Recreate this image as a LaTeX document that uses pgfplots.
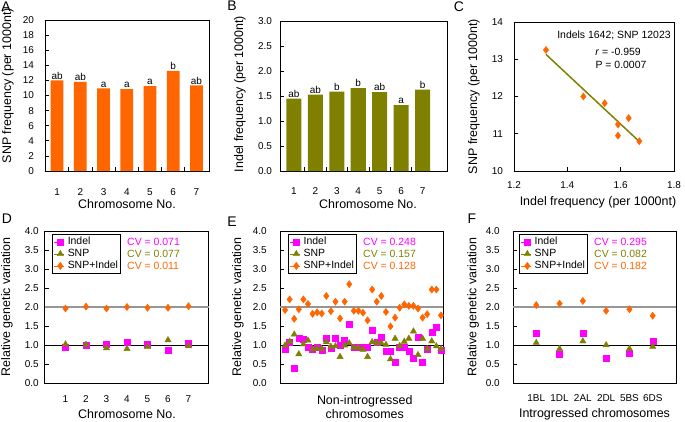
\documentclass[border=0pt]{standalone}
\usepackage{pgfplots}
\pgfplotsset{compat=1.18}
\usepackage{fontspec}
\setmainfont{Liberation Sans}

\definecolor{snporange}{RGB}{255,102,0}
\definecolor{olivegreen}{RGB}{128,128,0}
\definecolor{indelpink}{RGB}{255,0,255}
\definecolor{refgray}{RGB}{150,150,150}

\pgfplotsset{
  panel/.style={
    scale only axis, anchor=south west, clip=false,
    axis line style={line width=1bp},
    tick style={black, line width=0.8bp},
    major tick length=4bp, minor tick length=4bp,
    tick align=inside, tick pos=left,
    tick label style={font=\fontsize{10}{12}\selectfont},
    label style={font=\fontsize{12.5}{14}\selectfont},
    /pgf/number format/assume math mode=true,
  },
  onedec/.style={#1ticklabel style={/pgf/number format/fixed, /pgf/number format/fixed zerofill, /pgf/number format/precision=1}},
  xlab/.style={xticklabel style={anchor=center, yshift=-#1}},
  barlabels/.style={nodes near coords, point meta=explicit symbolic,
    every node near coord/.append style={font=\fontsize{10}{12}\selectfont, inner sep=1bp, black}},
  relvar/.style={
    ymin=0, ymax=4, ytick={0,0.5,...,4}, onedec=y,
    ylabel={Relative genetic variation},
    legend cell align=left,
    legend style={font=\fontsize{10.5}{12}\selectfont, draw=black, line width=0.8bp,
      inner xsep=1.5bp, inner ysep=1.5bp, row sep=0pt, column sep=2bp,
      nodes={inner sep=1bp, text height=7.6bp, text depth=2.4bp}},
    legend image code/.code={\path (0bp,0bp) -- (10bp,0bp); \draw[##1, line width=0.4bp] plot coordinates {(6bp,0bp)};},
  },
  indelmk/.style={only marks, mark=square*, mark size=3bp, indelpink, mark options={draw=indelpink, fill=indelpink}},
  snpmk/.style={only marks, mark=triangle*, mark size=3.6bp, olivegreen, mark options={draw=olivegreen, fill=olivegreen}},
  summk/.style={only marks, mark=diamond*, mark size=3.6bp, snporange, mark options={draw=snporange, fill=snporange}},
}

\begin{document}
\begin{tikzpicture}
\path[use as bounding box] (0bp,0bp) rectangle (685bp,-422bp);

% A: SNP frequency
\begin{axis}[panel, at={(45bp,-171bp)}, width=164bp, height=151bp,
  xmin=0.48, xmax=7.54, xtick={1,...,7}, xticklabels={1,2,3,4,5,6,7},
  major x tick style={draw=none}, minor xtick={1.5,2.5,...,6.5},
  ymin=0, ymax=20, ytick={0,2,...,20},
  xlab=21bp, yticklabel style={xshift=-7.5bp},
  xlabel={Chromosome No.}, ylabel={SNP frequency (per 1000nt)},
  xlabel style={at={(axis description cs:0.5,-0.2185)}, anchor=center},
  ylabel style={at={(axis description cs:-0.226,0.565)}, anchor=center},
]
\addplot[ybar, bar width=0.545, fill=snporange, draw=none, barlabels] coordinates {
  (1,12.00) [ab] (2,11.80) [ab] (3,10.95) [a] (4,10.85) [a]
  (5,11.25) [a] (6,13.25) [b] (7,11.35) [ab]};
\end{axis}

% B: Indel frequency
\begin{axis}[panel, at={(280bp,-171bp)}, width=167bp, height=150bp,
  xmin=0.35, xmax=8.14, xtick={1,...,7}, xticklabels={1,2,3,4,5,6,7},
  major x tick style={draw=none}, minor xtick={1.5,2.5,...,6.5},
  ymin=0, ymax=3, ytick={0,0.5,...,3}, onedec=y,
  xlab=20bp, yticklabel style={xshift=-4.5bp},
  xlabel={Chromosome No.}, ylabel={Indel frequency (per 1000nt)},
  xlabel style={at={(axis description cs:0.527,-0.22)}, anchor=center},
  ylabel style={at={(axis description cs:-0.24,0.513)}, anchor=center},
]
\addplot[ybar, bar width=0.70, fill=olivegreen, draw=none, barlabels] coordinates {
  (1,1.45) [ab] (2,1.53) [ab] (3,1.59) [b] (4,1.66) [b]
  (5,1.58) [ab] (6,1.32) [a] (7,1.63) [b]};
\end{axis}

% C: correlation
\begin{axis}[panel, at={(514bp,-171bp)}, width=160bp, height=149bp,
  xmin=1.2, xmax=1.8, xtick={1.2,1.4,1.6,1.8}, xticklabels={1.2,1.4,1.6,1.8},
  ymin=10, ymax=14, ytick={10,...,14},
  xlab=14bp, yticklabel style={xshift=-7.5bp},
  xlabel={Indel frequency (per 1000nt)}, ylabel={SNP frequency (per 1000nt)},
  xlabel style={at={(axis description cs:0.525,-0.208)}, anchor=center},
  ylabel style={at={(axis description cs:-0.25,0.5)}, anchor=center},
]
\addplot[olivegreen, line width=1.5bp, no marks] coordinates {(1.32,13.13) (1.67,10.79)};
\addplot[summk] coordinates {
  (1.46,12.00) (1.54,11.82) (1.59,10.95) (1.67,10.80)
  (1.59,11.25) (1.32,13.25) (1.63,11.42)};
\end{axis}

% D: relative variation, chromosomes
\begin{axis}[panel, relvar, at={(45bp,-383bp)}, width=164bp, height=152bp,
  xmin=0, xmax=8, xtick={1,...,7}, xticklabels={1,2,3,4,5,6,7},
  major x tick style={draw=none},
  xlab=16bp, yticklabel style={xshift=-2.7bp},
  xlabel={Chromosome No.},
  xlabel style={at={(axis description cs:0.5,-0.204)}, anchor=center},
  ylabel style={at={(axis description cs:-0.232,0.5)}, anchor=center},
  legend style={at={(axis description cs:0.043,0.98)}, anchor=north west},
]
\addplot[refgray, line width=1.5bp, forget plot] coordinates {(0,2) (8,2)};
\addplot[black, line width=0.8bp, forget plot] coordinates {(0,1) (8,1)};
\addplot[indelmk] coordinates {(1,0.93) (2,1.00) (3,1.02) (4,1.08) (5,1.02) (6,0.86) (7,1.05)};
\addlegendentry{Indel}
\addplot[snpmk] coordinates {(1,1.02) (2,1.01) (3,0.92) (4,0.90) (5,0.95) (6,1.13) (7,0.97)};
\addlegendentry{SNP}
\addplot[summk] coordinates {(1,1.96) (2,2.01) (3,1.96) (4,2.00) (5,1.98) (6,1.98) (7,2.02)};
\addlegendentry{SNP+Indel}
\end{axis}

% E: non-introgressed chromosomes
\begin{axis}[panel, relvar, at={(280bp,-383bp)}, width=163bp, height=152bp,
  xmin=-0.1, xmax=35.45, xtick=\empty, minor xtick={0.5,1.5,...,34.5},
  yticklabel style={xshift=-9.7bp},
  xlabel={Non-introgressed\\chromosomes},
  xlabel style={at={(axis description cs:0.52,-0.158)}, anchor=center, align=center},
  ylabel style={at={(axis description cs:-0.258,0.5)}, anchor=center},
  legend style={at={(axis description cs:0.049,0.98)}, anchor=north west},
]
\addplot[refgray, line width=1.5bp, forget plot] coordinates {(-0.1,2) (35.45,2)};
\addplot[black, line width=0.8bp, forget plot] coordinates {(-0.1,1) (35.45,1)};
\addplot[indelmk] coordinates {
  (1,0.89) (2,1.08) (3,0.38) (4,1.17) (5,1.15) (6,0.95) (7,0.89) (8,0.95) (9,0.87)
  (10,1.19) (11,0.91) (12,1.17) (13,0.99) (14,1.13) (15,1.56) (16,0.93) (17,0.93)
  (18,0.95) (19,0.93) (20,1.38) (21,1.08) (22,1.21) (23,0.84) (24,0.84) (25,0.54)
  (26,0.95) (27,0.95) (28,0.84) (29,0.64) (30,1.21) (31,0.54) (32,0.89) (33,1.33)
  (34,1.47) (35,0.86)};
\addlegendentry{Indel}
\addplot[snpmk] coordinates {
  (1,0.99) (2,1.09) (3,1.28) (4,0.76) (5,1.02) (6,1.12) (7,0.89) (8,0.91) (9,0.90)
  (10,1.08) (11,0.96) (12,0.97) (13,0.69) (14,0.99) (15,1.05) (16,0.93) (17,0.93)
  (18,0.88) (19,0.69) (20,1.08) (21,1.05) (22,1.05) (23,1.01) (24,0.63) (25,1.17)
  (26,0.98) (27,1.09) (28,1.17) (29,1.36) (30,0.74) (31,1.17) (32,0.90) (33,1.10)
  (34,0.97) (35,0.90)};
\addlegendentry{SNP}
\addplot[summk] coordinates {
  (1,1.92) (2,2.20) (3,1.69) (4,1.94) (5,2.20) (6,2.08) (7,1.82) (8,1.86) (9,1.83)
  (10,2.29) (11,1.89) (12,2.14) (13,1.70) (14,2.14) (15,2.60) (16,1.90) (17,1.90)
  (18,1.85) (19,1.65) (20,2.46) (21,2.14) (22,2.29) (23,1.87) (24,1.49) (25,1.72)
  (26,1.98) (27,2.07) (28,2.03) (29,2.03) (30,1.96) (31,1.72) (32,1.81) (33,2.46)
  (34,2.46) (35,1.78)};
\addlegendentry{SNP+Indel}
\end{axis}

% F: introgressed chromosomes
\begin{axis}[panel, relvar, at={(513bp,-383bp)}, width=163bp, height=152bp,
  xmin=0, xmax=7, xtick={1,...,6}, xticklabels={1BL,1DL,2AL,2DL,5BS,6DS},
  major x tick style={draw=none},
  xlab=15bp, yticklabel style={xshift=-9.7bp},
  xlabel={Introgressed chromosomes},
  xlabel style={at={(axis description cs:0.5,-0.204)}, anchor=center},
  ylabel style={at={(axis description cs:-0.245,0.5)}, anchor=center},
  legend style={at={(axis description cs:0.037,0.98)}, anchor=north west},
]
\addplot[refgray, line width=1.5bp, forget plot] coordinates {(0,2) (7,2)};
\addplot[black, line width=0.8bp, forget plot] coordinates {(0,1) (7,1)};
\addplot[indelmk] coordinates {(1,1.32) (2,0.77) (3,1.30) (4,0.66) (5,0.78) (6,1.11)};
\addlegendentry{Indel}
\addplot[snpmk] coordinates {(1,1.06) (2,0.90) (3,1.10) (4,1.00) (5,0.90) (6,0.96)};
\addlegendentry{SNP}
\addplot[summk] coordinates {(1,2.05) (2,2.09) (3,2.16) (4,1.90) (5,1.94) (6,1.77)};
\addlegendentry{SNP+Indel}
\end{axis}

% annotations
\begin{scope}[font=\fontsize{10.5}{12}\selectfont]
\node at (614bp,-35bp) {Indels 1642; SNP 12023};
\node at (618bp,-52bp) {\textit{r} = -0.959};
\node at (621bp,-65bp) {P = 0.0007};
\end{scope}
\begin{scope}[font=\fontsize{10.5}{12}\selectfont, anchor=west, inner sep=0pt]
\node[indelpink] at (127bp,-242bp) {CV = 0.071};
\node[olivegreen] at (127bp,-254bp) {CV = 0.077};
\node[snporange] at (127bp,-266bp) {CV = 0.011};
\node[indelpink] at (363bp,-242bp) {CV = 0.248};
\node[olivegreen] at (363bp,-254bp) {CV = 0.157};
\node[snporange] at (363bp,-266bp) {CV = 0.128};
\node[indelpink] at (594bp,-242bp) {CV = 0.295};
\node[olivegreen] at (594bp,-254bp) {CV = 0.082};
\node[snporange] at (594bp,-266bp) {CV = 0.182};
\end{scope}
\begin{scope}[font=\fontsize{14}{16}\selectfont]
\node at (6bp,-7bp) {A};
\node at (232bp,-6bp) {B};
\node at (459bp,-7bp) {C};
\node at (7bp,-219bp) {D};
\node at (232bp,-222bp) {E};
\node at (472bp,-219bp) {F};
\end{scope}
\end{tikzpicture}
\end{document}
